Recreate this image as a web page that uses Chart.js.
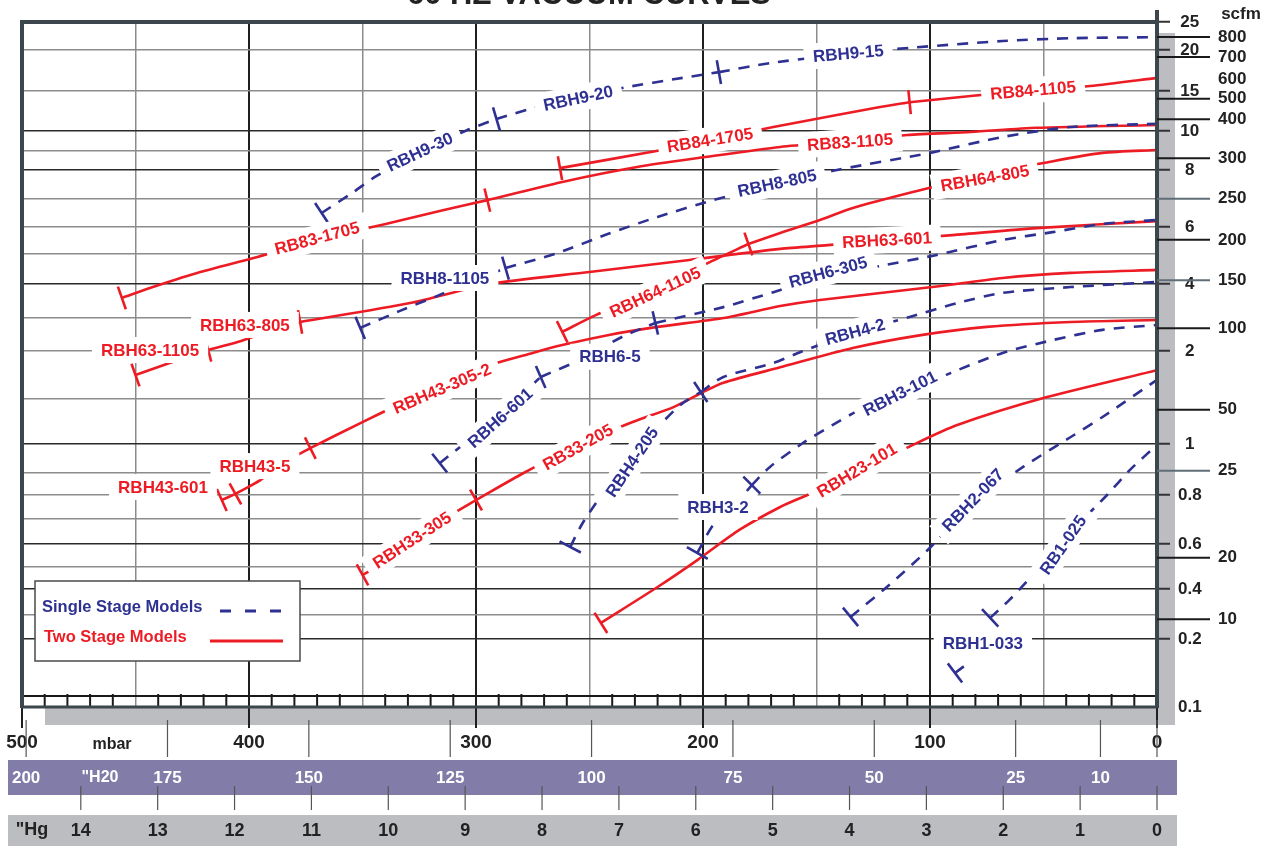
<!DOCTYPE html>
<html>
<head>
<meta charset="utf-8">
<style>
  html, body { margin: 0; padding: 0; background: #fff; }
  #wrap { width: 1268px; height: 846px; }
</style>
<script src="https://cdn.jsdelivr.net/npm/chart.js@4.4.0/dist/chart.umd.min.js"></script>
</head>
<body>
<div id="wrap"><canvas id="chart" width="1268" height="846"></canvas></div>
<script>
const NAVY = '#2e3192';
const RED = '#ed1c24';
const FONT = '"Liberation Sans", Arial, sans-serif';

// flow axis (inner right scale). the printed grid is hand spaced, so the scale follows it
const flowGrid = [0.1, 0.2, 0.3, 0.4, 0.5, 0.6, 0.7, 0.8, 0.9, 1, 1.5, 2, 3, 4, 5, 6, 7, 8, 9, 10, 15, 20, 25];
const flowGridPos = [0, 0.0993, 0.1343, 0.1723, 0.2044, 0.238, 0.2745, 0.3095, 0.3416, 0.3839, 0.4496, 0.5197,
  0.5679, 0.6175, 0.6613, 0.7007, 0.7416, 0.7839, 0.8117, 0.8409, 0.8993, 0.9591, 1];
const flowLabels = [0.1, 0.2, 0.4, 0.6, 0.8, 1, 2, 4, 6, 8, 10, 15, 20, 25];
const flowDark = [0.2, 0.4, 0.6, 1, 4, 8, 10];

// scfm axis (outer right scale)
const scfmGrid = [0, 10, 20, 25, 50, 100, 150, 200, 250, 300, 400, 500, 600, 700, 800, 900];
const scfmGridPos = [0, 0.128, 0.218, 0.345, 0.434, 0.553, 0.623, 0.682, 0.742, 0.801, 0.858, 0.888, 0.917, 0.949, 0.978, 1];
const scfmTicks = [10, 20, 25, 50, 100, 150, 200, 250, 300, 400, 500, 600, 700, 800];
const scfmNoLine = [600];
const scfmGrey = [25, 150, 250];

// pressure axes
const mbarGrid = [0, 50, 100, 150, 200, 250, 300, 350, 400, 450, 500];
const h2oTicks = [200, 175, 150, 125, 100, 75, 50, 25, 10];
const hgTicks = [14, 13, 12, 11, 10, 9, 8, 7, 6, 5, 4, 3, 2, 1, 0];
const MBAR_PER_INH2O = 2.4909;
const MBAR_PER_INHG = 33.8639;

// single stage models: [mbar, flow]
const rbh9_30 = [[368, 6.5], [354, 7.24], [344.5, 7.76], [325, 8.95], [304, 10.1], [291, 11.5]];
const rbh9_20 = [[291, 11.5], [272, 13.1], [254, 14.25], [235, 15.4], [209, 16.6], [193, 17.3]];
const rbh9_15 = [[193, 17.3], [170.5, 18.4], [144, 19.3], [114.5, 20.2], [68, 21.6], [38, 22.1], [0, 22.3]];
const rbh8_1105 = [[351, 2.7], [333.5, 3.21], [317, 3.65], [302.5, 4.07], [287, 4.53]];
const rbh8_805 = [[287, 4.53], [264, 5.04], [242, 5.74], [220, 6.36], [195.5, 6.96], [168, 7.48], [141, 8.0], [100, 8.9], [68, 9.7], [38, 10.5], [0, 10.9]];
const rbh6_601 = [[316, 0.934], [307, 0.99], [289.5, 1.32], [271.5, 1.73]];
const rbh6_5 = [[271.5, 1.73], [254, 1.91], [235, 2.45], [221, 2.85]];
const rbh6_305 = [[221, 2.85], [191, 3.32], [169, 3.76], [144, 4.3], [122, 4.6], [97, 4.97], [68, 5.52], [46, 5.81], [24, 6.11], [0, 6.25]];
const rbh4_205 = [[258.5, 0.587], [253, 0.684], [243, 0.823], [233, 0.934], [221, 1.156], [210, 1.433], [201, 1.573]];
const rbh4_2 = [[201, 1.573], [191, 1.73], [169, 1.875], [157, 1.99], [134, 2.55], [109, 3.03], [88, 3.44], [68, 3.74], [38, 3.91], [0, 4.07]];
const rbh3_2 = [[202.5, 0.561], [195.5, 0.676], [186, 0.758], [178.5, 0.845]];
const rbh3_101 = [[178.5, 0.845], [170.5, 0.921], [156, 1.011], [143, 1.211], [131, 1.378], [113, 1.542], [91, 1.77], [68, 1.98], [46, 2.33], [24, 2.64], [0, 2.79]];
const rbh2_067 = [[135, 0.292], [119, 0.409], [101, 0.574], [81, 0.767], [59, 0.921], [38, 1.078], [24, 1.3], [0, 1.7]];
const rb1_025 = [[73.5, 0.288], [65, 0.358], [56, 0.45], [41.5, 0.616], [22, 0.8], [12, 0.91], [0, 0.997]];
const rbh1_033 = [[89, 0.15], [85, 0.16]];

// two stage models: [mbar, flow]
const rb83_1705 = [[456, 3.59], [441, 3.94], [421.5, 4.4], [398, 4.87], [370, 5.52], [338, 6.14], [316, 6.57], [295, 6.96]];
const rb83_1105 = [[295, 6.96], [262, 7.59], [229, 8.16], [199, 8.68], [166, 9.2], [135, 9.5], [110, 9.8], [82, 9.95], [53, 10.4], [0, 10.75]];
const rb84_1705 = [[263, 8.1], [223, 8.95], [197, 9.55], [169, 10.5], [141, 12], [122, 13], [109, 13.6]];
const rb84_1105 = [[109, 13.6], [81, 14.4], [54.5, 15.1], [29.5, 15.6], [0, 16.6]];
const rbh64_1105 = [[262, 2.58], [247, 3.09], [221, 3.82], [197, 4.73], [180, 5.37]];
const rbh64_805 = [[180, 5.37], [166, 5.78], [148.5, 6.25], [134, 6.68], [104, 7.31], [77, 7.83], [50, 8.37], [24, 8.9], [0, 9.05]];
const rbh63_1105 = [[450, 1.75], [435, 1.875], [418, 2.03]];
const rbh63_805 = [[418, 2.03], [405, 2.27], [391, 2.61], [377.5, 2.88]];
const rbh63_601 = [[377.5, 2.88], [329, 3.44], [294, 4.0], [250, 4.4], [206, 4.8], [166, 5.19], [145, 5.33], [119, 5.52], [90, 5.7], [53, 5.96], [0, 6.21]];
const rbh43_601 = [[412, 0.779], [406, 0.805]];
const rbh43_5 = [[406, 0.805], [395, 0.868], [384, 0.938], [373, 0.986]];
const rbh43_305_2 = [[373, 0.986], [350, 1.244], [316, 1.646], [298, 1.823], [275, 1.98], [262, 2.18], [242, 2.48], [220, 2.73], [191, 3.0], [166, 3.35], [148.5, 3.53], [99, 3.91], [68, 4.2], [38, 4.37], [0, 4.47]];
const rbh33_305 = [[350, 0.464], [342, 0.509], [329, 0.596], [316, 0.688], [300, 0.779]];
const rb33_205 = [[300, 0.779], [279, 0.9], [255, 0.997], [231, 1.244], [213, 1.41], [201, 1.56], [191, 1.67], [166, 1.83], [134, 2.09], [104, 2.48], [75, 2.73], [38, 2.88], [0, 2.94]];
const rbh23_101 = [[245, 0.267], [220, 0.409], [202.5, 0.53], [184, 0.656], [166, 0.75], [154, 0.8], [132, 0.903], [107.5, 0.997], [88, 1.211], [48.5, 1.52], [0, 1.8]];

const singleNames = ['RBH9-30', 'RBH9-20', 'RBH9-15', 'RBH8-1105', 'RBH8-805', 'RBH6-601', 'RBH6-5', 'RBH6-305',
  'RBH4-205', 'RBH4-2', 'RBH3-2', 'RBH3-101', 'RBH2-067', 'RB1-025', 'RBH1-033'];
const singleCurves = [rbh9_30, rbh9_20, rbh9_15, rbh8_1105, rbh8_805, rbh6_601, rbh6_5, rbh6_305,
  rbh4_205, rbh4_2, rbh3_2, rbh3_101, rbh2_067, rb1_025, rbh1_033];
const twoNames = ['RB83-1705', 'RB83-1105', 'RB84-1705', 'RB84-1105', 'RBH64-1105', 'RBH64-805', 'RBH63-1105',
  'RBH63-805', 'RBH63-601', 'RBH43-601', 'RBH43-5', 'RBH43-305-2', 'RBH33-305', 'RB33-205', 'RBH23-101'];
const twoCurves = [rb83_1705, rb83_1105, rb84_1705, rb84_1105, rbh64_1105, rbh64_805, rbh63_1105,
  rbh63_805, rbh63_601, rbh43_601, rbh43_5, rbh43_305_2, rbh33_305, rb33_205, rbh23_101];

// where each model name sits: [mbar, flow, angle]
const singleLabelSpots = [[324.7, 8.95, -25], [255, 14.1, -12], [136, 19.6, -5], [313.7, 4.2, 0], [167.4, 7.55, -12],
  [289.4, 1.29, -42], [241, 1.94, 0], [144.9, 4.4, -15], [231.3, 0.938, -56], [133, 2.58, -15], [193.4, 0.75, 0],
  [113.2, 1.56, -27], [81.1, 0.779, -46], [41.4, 0.596, -55], [76.7, 0.194, 0]];
const twoLabelSpots = [[370, 5.59, -15], [135.2, 9.45, -4], [196.9, 9.55, -9], [54.6, 15.1, -5], [221.1, 3.76, -25],
  [75.8, 7.72, -10], [443.6, 2.03, 0], [401.8, 2.79, 0], [118.9, 5.52, -3], [437.9, 0.836, 0], [397.4, 0.924, 0],
  [315, 1.61, -23], [328.2, 0.616, -33], [255.1, 0.99, -29], [132.2, 0.91, -31]];

function knotToDecimal(vals, pos, v) {
  if (v <= vals[0]) return pos[0];
  for (let i = 1; i < vals.length; i++) {
    if (v <= vals[i]) return pos[i - 1] + (v - vals[i - 1]) / (vals[i] - vals[i - 1]) * (pos[i] - pos[i - 1]);
  }
  return pos[pos.length - 1];
}
function decimalToKnot(vals, pos, d) {
  if (d <= pos[0]) return vals[0];
  for (let i = 1; i < pos.length; i++) {
    if (d <= pos[i]) return vals[i - 1] + (d - pos[i - 1]) / (pos[i] - pos[i - 1]) * (vals[i] - vals[i - 1]);
  }
  return vals[vals.length - 1];
}

class KnotScale extends Chart.LinearScale {
  knots() {
    return this.id === 'y2' ? [scfmGrid, scfmGridPos] : [flowGrid, flowGridPos];
  }
  getPixelForValue(value) {
    const [v, p] = this.knots();
    return this.getPixelForDecimal(knotToDecimal(v, p, value));
  }
  getValueForPixel(pixel) {
    const [v, p] = this.knots();
    return decimalToKnot(v, p, this.getDecimalForPixel(pixel));
  }
}
KnotScale.id = 'knot';
KnotScale.defaults = Chart.LinearScale.defaults;
Chart.register(KnotScale);

// tick mark across the start of each model segment
function tickAngle(c) {
  const pts = c.dataset.data;
  const sx = c.chart.scales.x, sy = c.chart.scales.y;
  if (!sx || !sy || pts.length < 2) return 90;
  const dx = sx.getPixelForValue(pts[1].x) - sx.getPixelForValue(pts[0].x);
  const dy = sy.getPixelForValue(pts[1].y) - sy.getPixelForValue(pts[0].y);
  return Math.atan2(dy, dx) * 180 / Math.PI + 90;
}

function curveSet(name, pts, color, dashed) {
  return {
    label: name,
    data: pts.map(p => ({ x: p[0], y: p[1] })),
    borderColor: color,
    backgroundColor: color,
    borderWidth: 2.6,
    borderDash: dashed ? [11, 9] : [],
    tension: 0.25,
    fill: false,
    pointStyle: 'line',
    pointRadius: c => c.dataIndex === 0 ? 12 : 0,
    pointHoverRadius: 0,
    pointBorderWidth: 2.6,
    pointBorderColor: color,
    pointRotation: tickAngle,
    xAxisID: 'x',
    yAxisID: 'y'
  };
}

const datasets = [];
singleNames.forEach((n, i) => datasets.push(curveSet(n, singleCurves[i], NAVY, true)));
twoNames.forEach((n, i) => datasets.push(curveSet(n, twoCurves[i], RED, false)));

function line(ctx, x1, y1, x2, y2) {
  ctx.beginPath();
  ctx.moveTo(x1, y1);
  ctx.lineTo(x2, y2);
  ctx.stroke();
}

function drawTag(ctx, text, px, py, angle, color) {
  ctx.save();
  ctx.translate(px, py);
  ctx.rotate(angle * Math.PI / 180);
  ctx.font = 'bold 17px ' + FONT;
  const w = ctx.measureText(text).width + 18;
  ctx.fillStyle = '#fff';
  ctx.fillRect(-w / 2, -13, w, 26);
  ctx.fillStyle = color;
  ctx.textAlign = 'center';
  ctx.textBaseline = 'middle';
  ctx.fillText(text, 0, 1);
  ctx.restore();
}

const decor = {
  id: 'decor',
  beforeDraw(chart) {
    const { ctx, chartArea: a, scales } = chart;
    ctx.save();
    ctx.fillStyle = '#fff';
    ctx.fillRect(0, 0, chart.width, chart.height);
    // drop shadow of the plot
    ctx.fillStyle = '#bcbdc1';
    ctx.fillRect(a.left + 23, a.top + 11, a.right + 18 - (a.left + 23), a.bottom + 18 - (a.top + 11));
    ctx.fillStyle = '#fff';
    ctx.fillRect(a.left, a.top, a.right - a.left, a.bottom - a.top);
    // unit bands
    ctx.fillStyle = '#827ca8';
    ctx.fillRect(8, scales.x2.top + 3, 1169, scales.x2.bottom - scales.x2.top - 5);
    ctx.fillStyle = '#bcbdc1';
    ctx.fillRect(8, scales.x3.top + 18, 1169, scales.x3.bottom - scales.x3.top - 18);
    ctx.restore();
  },
  afterDraw(chart) {
    const { ctx, chartArea: a, scales } = chart;
    const { x, x2, x3, y2 } = scales;
    ctx.save();

    // bottom tick strip
    ctx.strokeStyle = '#1a1a1a';
    ctx.lineWidth = 2;
    line(ctx, a.left, a.bottom - 11, a.right, a.bottom - 11);
    for (let m = 10; m < 500; m += 10) {
      if (m % 50 === 0) continue;
      const px = x.getPixelForValue(m);
      line(ctx, px, a.bottom - 13, px, a.bottom - 1);
    }

    // frame
    ctx.strokeStyle = '#3b464d';
    ctx.lineWidth = 4;
    line(ctx, a.left, a.top - 2, a.left, a.bottom + 1);
    line(ctx, a.left - 2, a.top, a.right + 2, a.top);
    line(ctx, a.right, a.top - 12, a.right, a.bottom + 1);
    ctx.lineWidth = 3;
    line(ctx, a.left, a.bottom, a.right, a.bottom);

    // scfm tick lines
    ctx.lineWidth = 2;
    scfmTicks.forEach(v => {
      if (scfmNoLine.includes(v)) return;
      ctx.strokeStyle = scfmGrey.includes(v) ? '#5f6e76' : '#1a1a1a';
      const py = y2.getPixelForValue(v);
      line(ctx, a.right, py, a.right + 53, py);
    });

    // conversion marks for "H2O and "Hg
    ctx.strokeStyle = '#555';
    ctx.lineWidth = 1.2;
    h2oTicks.concat([0]).forEach(v => {
      const px = x2.getPixelForValue(v);
      line(ctx, px, a.bottom + 13, px, x.bottom);
    });
    hgTicks.forEach(v => {
      const px = x3.getPixelForValue(v);
      line(ctx, px, x2.bottom - 11, px, x3.top + 13);
    });

    // model names
    singleNames.forEach((n, i) => {
      const s = singleLabelSpots[i];
      drawTag(ctx, n, x.getPixelForValue(s[0]), scales.y.getPixelForValue(s[1]), s[2], NAVY);
    });
    twoNames.forEach((n, i) => {
      const s = twoLabelSpots[i];
      drawTag(ctx, n, x.getPixelForValue(s[0]), scales.y.getPixelForValue(s[1]), s[2], RED);
    });

    // legend
    const lx = a.left + 13, ly = a.top + 559;
    ctx.fillStyle = '#fff';
    ctx.fillRect(lx, ly, 265, 80);
    ctx.strokeStyle = '#4a4a4a';
    ctx.lineWidth = 1.5;
    ctx.strokeRect(lx, ly, 265, 80);
    ctx.font = 'bold 16.5px ' + FONT;
    ctx.textAlign = 'left';
    ctx.textBaseline = 'middle';
    ctx.fillStyle = NAVY;
    ctx.fillText('Single Stage Models', lx + 7, ly + 26);
    ctx.fillStyle = RED;
    ctx.fillText('Two Stage Models', lx + 9, ly + 56);
    ctx.lineWidth = 3;
    ctx.strokeStyle = NAVY;
    ctx.setLineDash([11, 14]);
    line(ctx, lx + 185, ly + 30, lx + 252, ly + 30);
    ctx.setLineDash([]);
    ctx.strokeStyle = RED;
    line(ctx, lx + 175, ly + 60, lx + 248, ly + 60);

    // texts around the axes
    ctx.fillStyle = '#222';
    ctx.textAlign = 'center';
    ctx.textBaseline = 'alphabetic';
    ctx.font = 'bold 31px ' + FONT;
    ctx.fillText('60 HZ VACUUM CURVES', 589, 4);
    ctx.textBaseline = 'middle';
    ctx.font = 'bold 17px ' + FONT;
    ctx.fillText('scfm', 1241, 14);
    ctx.font = 'bold 16px ' + FONT;
    ctx.fillText('mbar', 112, 745);
    ctx.font = 'bold 18px ' + FONT;
    ctx.fillText('"Hg', 32, 830);
    ctx.fillStyle = '#fff';
    ctx.font = 'bold 16px ' + FONT;
    ctx.fillText('"H20', 100, 778);
    ctx.restore();
  }
};

const tickFont = size => ({ family: FONT, size: size, weight: 'bold' });

new Chart(document.getElementById('chart'), {
  type: 'line',
  data: { datasets: datasets },
  plugins: [decor],
  options: {
    responsive: false,
    animation: false,
    devicePixelRatio: 1,
    events: [],
    layout: { padding: { left: 22, top: 22, right: 0, bottom: 0 } },
    plugins: { legend: { display: false }, tooltip: { enabled: false } },
    scales: {
      x: {
        type: 'linear', position: 'bottom', reverse: true, min: 0, max: 500, weight: 0,
        afterBuildTicks: s => { s.ticks = mbarGrid.map(v => ({ value: v })); },
        afterFit: s => { s.height = 50; },
        border: { display: false },
        grid: {
          color: c => c.tick.value % 100 ? '#8c8c8c' : '#1f1f1f',
          lineWidth: c => c.tick.value % 100 ? 1.5 : 2,
          drawTicks: true, tickLength: 21, tickWidth: 2,
          tickColor: c => c.tick.value % 100 ? 'rgba(0,0,0,0)' : '#1f1f1f'
        },
        ticks: {
          autoSkip: false, maxRotation: 0, padding: 3, color: '#222', font: tickFont(19),
          callback: v => v % 100 ? '' : String(v)
        }
      },
      x2: {
        type: 'linear', position: 'bottom', reverse: true, min: 0, max: 500 / MBAR_PER_INH2O, weight: 1,
        afterBuildTicks: s => { s.ticks = h2oTicks.map(v => ({ value: v })); },
        afterFit: s => { s.height = 40; },
        border: { display: false },
        grid: { display: false, drawTicks: false },
        ticks: { autoSkip: false, maxRotation: 0, padding: 11, color: '#fff', font: tickFont(17), callback: v => String(v) }
      },
      x3: {
        type: 'linear', position: 'bottom', reverse: true, min: 0, max: 500 / MBAR_PER_INHG, weight: 2,
        afterBuildTicks: s => { s.ticks = hgTicks.map(v => ({ value: v })); },
        afterFit: s => { s.height = 49; },
        border: { display: false },
        grid: { display: false, drawTicks: false },
        ticks: { autoSkip: false, maxRotation: 0, padding: 23, color: '#222', font: tickFont(18), callback: v => String(v) }
      },
      y: {
        type: 'knot', position: 'right', min: 0.1, max: 25, weight: 0,
        afterBuildTicks: s => { s.ticks = flowGrid.map(v => ({ value: v })); },
        afterFit: s => { s.width = 60; },
        border: { display: false },
        grid: {
          color: c => flowDark.includes(c.tick.value) ? '#2a2a2a' : '#8c8c8c',
          lineWidth: 1.5,
          drawTicks: true, tickLength: 13, tickWidth: 2,
          tickColor: c => (flowLabels.includes(c.tick.value) && c.tick.value !== 0.1) ? '#333' : 'rgba(0,0,0,0)'
        },
        ticks: {
          autoSkip: false, padding: 8, crossAlign: 'center', color: '#222', font: tickFont(17),
          callback: v => flowLabels.includes(v) ? String(v) : ''
        }
      },
      y2: {
        type: 'knot', position: 'right', min: 0, max: 900, weight: 1,
        afterBuildTicks: s => { s.ticks = scfmTicks.map(v => ({ value: v })); },
        afterFit: s => { s.width = 51; },
        border: { display: false },
        grid: { display: false, drawTicks: false },
        ticks: { autoSkip: false, padding: 1, crossAlign: 'near', color: '#222', font: tickFont(17), callback: v => String(v) }
      }
    }
  }
});
</script>
</body>
</html>
